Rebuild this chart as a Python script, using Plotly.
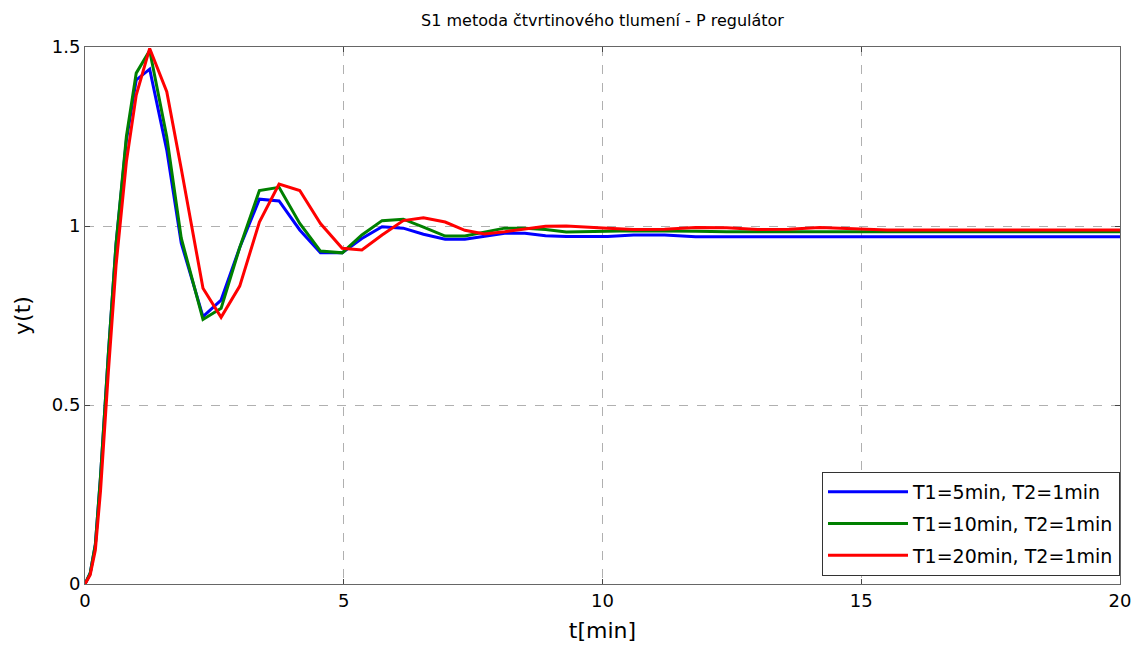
import plotly.graph_objects as go

t = [0, 0.1, 0.2, 0.3, 0.45, 0.6, 0.8, 0.99, 1.25, 1.58, 1.86, 2.28, 2.63, 2.99,
     3.37, 3.75, 4.15, 4.55, 4.97, 5.35, 5.74, 6.15, 6.54, 6.96, 7.34, 7.72, 8.11,
     8.5, 8.9, 9.3, 9.7, 10.1, 10.6, 11.2, 11.8, 12.4, 13.0, 13.6, 14.2, 14.8,
     15.5, 16.5, 17.5, 18.5, 20]

y_t1_5 = [0, 0.03, 0.11, 0.3, 0.64, 0.95, 1.24, 1.408, 1.438, 1.212, 0.952, 0.747,
          0.793, 0.94, 1.075, 1.07, 0.989, 0.925, 0.925, 0.965, 0.998, 0.994, 0.977,
          0.963, 0.963, 0.972, 0.98, 0.98, 0.973, 0.971, 0.971, 0.971, 0.975, 0.975,
          0.970, 0.970, 0.970, 0.970, 0.970, 0.970, 0.970, 0.970, 0.970, 0.970, 0.970]

y_t1_10 = [0, 0.03, 0.11, 0.3, 0.64, 0.95, 1.25, 1.427, 1.49, 1.249, 0.966, 0.739,
           0.77, 0.94, 1.099, 1.108, 1.007, 0.93, 0.925, 0.975, 1.015, 1.019, 0.997,
           0.972, 0.972, 0.983, 0.994, 0.994, 0.99, 0.983, 0.983, 0.985, 0.987, 0.987,
           0.985, 0.984, 0.984, 0.984, 0.984, 0.984, 0.984, 0.984, 0.984, 0.984, 0.984]

y_t1_20 = [0, 0.025, 0.095, 0.26, 0.59, 0.89, 1.18, 1.366, 1.496, 1.375, 1.16, 0.826,
           0.745, 0.832, 1.011, 1.117, 1.099, 1.007, 0.938, 0.933, 0.975, 1.015, 1.023,
           1.011, 0.988, 0.978, 0.984, 0.992, 0.999, 1.0, 0.998, 0.994, 0.99, 0.991,
           0.996, 0.995, 0.990, 0.991, 0.996, 0.993, 0.989, 0.989, 0.989, 0.989, 0.989]

names = ["T1=5min, T2=1min", "T1=10min, T2=1min", "T1=20min, T2=1min"]
colors = ["#0000ff", "#008000", "#ff0000"]
series = [y_t1_5, y_t1_10, y_t1_20]

fig = go.Figure()
for i, (name, col, ys) in enumerate(zip(names, colors, series)):
    fig.add_trace(go.Scatter(x=t, y=ys, mode="lines", name=name,
                             legendgroup=f"g{i}",
                             line=dict(color=col, width=3)))

font_family = "DejaVu Sans, Liberation Sans, Arial, sans-serif"
fig.update_layout(
    width=1143, height=652,
    margin=dict(l=85, r=16, t=47, b=68),
    paper_bgcolor="white", plot_bgcolor="white",
    title=dict(text="S1 metoda čtvrtinového tlumení - P regulátor",
               xref="paper", x=0.5, xanchor="center", y=0.969, yanchor="middle",
               font=dict(family=font_family, size=16, color="black")),
    font=dict(family=font_family, color="black"),
    showlegend=True,
    legend=dict(x=1.0, y=0.015, xanchor="right", yanchor="bottom",
                bgcolor="white", bordercolor="#333", borderwidth=1,
                font=dict(family=font_family, size=19, color="black"),
                itemwidth=80, traceorder="grouped", tracegroupgap=4),
)
fig.update_xaxes(range=[0, 20], tickvals=[0, 5, 10, 15, 20],
                 ticks="inside", ticklen=5, tickcolor="#444",
                 showline=True, linecolor="#666", linewidth=1, mirror="allticks",
                 showgrid=True, gridcolor="#b0b0b0", griddash="dash", gridwidth=1,
                 zeroline=False, tickfont=dict(size=18),
                 title=dict(text="t[min]", font=dict(size=22), standoff=13))
fig.update_yaxes(range=[0, 1.5], tickvals=[0, 0.5, 1, 1.5],
                 ticktext=["0", "0.5", "1", "1.5"],
                 ticks="inside", ticklen=5, tickcolor="#444",
                 showline=True, linecolor="#666", linewidth=1, mirror="allticks",
                 showgrid=True, gridcolor="#b0b0b0", griddash="dash", gridwidth=1,
                 zeroline=False, tickfont=dict(size=18),
                 title=dict(text="y(t)", font=dict(size=22), standoff=15))

fig.write_html("out.html")
